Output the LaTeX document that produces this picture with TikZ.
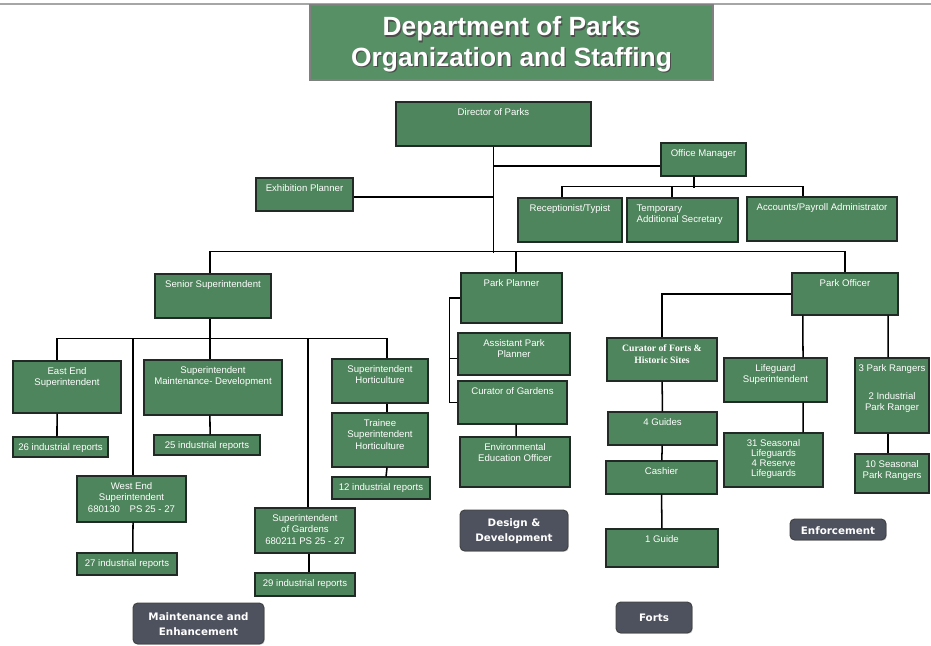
\documentclass[tikz,border=0pt]{standalone}
\usepackage{fontspec}
\setmainfont{Liberation Sans}
\newfontfamily\fortsfont{Liberation Serif}
\newfontfamily\areafont{DejaVu Sans}
\usetikzlibrary{fit,shadows}

\definecolor{parkgreen}{RGB}{78,133,92}
\definecolor{titlegreen}{RGB}{88,144,102}
\definecolor{unitline}{RGB}{34,42,38}
\definecolor{areagray}{RGB}{78,82,94}

\tikzset{
  unit/.style={draw=unitline, fill=parkgreen, line width=0.9pt, inner sep=0pt},
  unitname/.style={text=white, font=\fontsize{8.2}{9.6}\selectfont, align=center, inner sep=0pt},
  says/.style={label={[unitname, anchor=north, yshift=-6pt]north:#1}},
  area/.style={draw=black!75, fill=areagray, rounded corners=4pt, line width=0.8pt, inner sep=0pt, drop shadow={shadow xshift=0.8pt, shadow yshift=-0.8pt, opacity=0.35}},
  areaname/.style={text=white, font=\areafont\bfseries\fontsize{8.8}{12.5}\selectfont, align=center, inner sep=0pt},
  tag/.style={label={[areaname, anchor=center, yshift=-0.6pt]center:#1}},
  heading/.style={font=\bfseries\fontsize{22.5}{26}\selectfont, align=center, inner sep=0pt},
  link/.style={line width=1.3pt, black},
}

\begin{document}
\begin{tikzpicture}[x=0.03cm, y=-0.03cm]
    \useasboundingbox (0,0) rectangle (931,645);
    \draw[gray!70, line width=1.2pt] (0,4) -- (931,4);

    % title
    \node[unit, fill=titlegreen, draw=black!50, fit={(310,5) (713,80)}] (title) {};
    \node[heading, text=black!70] (titleshade) at ([xshift=1pt,yshift=-2.6pt]title.center) {Department of Parks\\Organization and Staffing};
    \node[heading, text=white] (titletext) at ([yshift=-1.6pt]title.center) {Department of Parks\\Organization and Staffing};

    % director and office
    \node[unit, fit={(396,102) (591,146)}, says={Director of Parks}] (dir) {};
    \node[unit, fit={(661,143) (746,176)}, says={Office Manager}] (om) {};
    \node[unit, fit={(256,178) (353,211)}, says={Exhibition Planner}] (exh) {};
    \node[unit, fit={(518,198) (622,242)}, says={Receptionist/Typist}] (rec) {};
    \node[unit, fit={(627,198) (738,242)}, label={[unitname, align=left, anchor=north west, xshift=8.5pt, yshift=-6pt]north west:Temporary\\Additional Secretary}] (tmp) {};
    \node[unit, fit={(747,197) (897,241)}, says={Accounts/Payroll Administrator}] (acc) {};

    % second level
    \node[unit, fit={(155,274) (271,318)}, says={Senior Superintendent}] (sen) {};
    \node[unit, fit={(461,273) (562,323)}, says={Park Planner}] (pp) {};
    \node[unit, fit={(792,273) (898,315)}, says={Park Officer}] (po) {};

    % maintenance and enhancement
    \node[unit, fit={(13,361) (121,413)}, says={East End\\Superintendent}] (east) {};
    \node[unit, fit={(144,360) (282,415)}, says={Superintendent\\Maintenance- Development}] (maint) {};
    \node[unit, fit={(332,359) (428,403)}, says={Superintendent\\Horticulture}] (hort) {};
    \node[unit, fit={(332,413) (428,467)}, says={Trainee\\Superintendent\\Horticulture}] (trainee) {};
    \node[unit, fit={(13,437) (108,457)}, says={26 industrial reports}] (r26) {};
    \node[unit, fit={(154,435) (260,455)}, says={25 industrial reports}] (r25) {};
    \node[unit, fit={(332,477) (430,499)}, says={12 industrial reports}] (r12) {};
    \node[unit, fit={(77,476) (186,522)}, says={West End\\Superintendent\\680130\quad PS 25 - 27}] (west) {};
    \node[unit, fit={(77,553) (177,575)}, says={27 industrial reports}] (r27) {};
    \node[unit, fit={(255,508) (355,553)}, says={Superintendent\\of Gardens\\680211 PS 25 - 27}] (gard) {};
    \node[unit, fit={(255,573) (355,596)}, says={29 industrial reports}] (r29) {};

    % design and development
    \node[unit, fit={(458,333) (570,375)}, says={Assistant Park\\Planner}] (asst) {};
    \node[unit, fit={(458,381) (567,424)}, says={Curator of Gardens}] (cg) {};
    \node[unit, fit={(460,437) (570,487)}, says={Environmental\\Education Officer}] (env) {};

    % forts
    \node[unit, fit={(607,338) (717,381)}, label={[unitname, font=\fortsfont\bfseries\fontsize{8.3}{10.4}\selectfont, anchor=north, yshift=-6pt]north:Curator of Forts \&\\Historic Sites}] (forts) {};
    \node[unit, fit={(608,412) (717,445)}, says={4 Guides}] (g4) {};
    \node[unit, fit={(606,461) (717,494)}, says={Cashier}] (cash) {};
    \node[unit, fit={(606,529) (718,567)}, says={1 Guide}] (g1) {};

    % enforcement
    \node[unit, fit={(724,358) (827,402)}, says={Lifeguard\\Superintendent}] (life) {};
    \node[unit, fit={(724,433) (823,487)}, label={[unitname, font=\fontsize{8.2}{8.6}\selectfont, anchor=north, yshift=-6pt]north:31 Seasonal\\Lifeguards\\4 Reserve\\Lifeguards}] (seas) {};
    \node[unit, fit={(855,358) (929,433)}, says={3 Park Rangers\\[14pt]2 Industrial\\Park Ranger}] (rang) {};
    \node[unit, fit={(855,454) (929,493)}, says={10 Seasonal\\Park Rangers}] (r10) {};

    % areas
    \node[area, fit={(133,603) (264,644)}, tag={Maintenance and\\Enhancement}] (maintarea) {};
    \node[area, fit={(460,510) (568,551)}, tag={Design \&\\Development}] (designarea) {};
    \node[area, fit={(616,602) (692,633)}, tag={Forts}] (fortsarea) {};
    \node[area, fit={(790,519) (886,540)}, tag={Enforcement}] (enfarea) {};

    % connectors
    \draw[link] (dir.south) -- ++(0,106);
    \draw[link] ([yshift=-5.5pt]om.west) -| (dir.south);
    \draw[link] ([yshift=-2pt]exh.east) -| (dir.south);
    \draw[link] ([xshift=-8.1pt]om.south) -- ++(0,11);
    \draw[link] ([xshift=-6.8pt]rec.north) -- ++(0,-11) -| ([xshift=-16.2pt]acc.north);
    \draw[link] ([xshift=-9pt]tmp.north) -- ++(0,-11);
    \draw[link] ([xshift=-2.6pt]sen.north) -- ++(0,-22) -| (po.north);
    \draw[link] ([xshift=3.8pt]pp.north) -- ++(0,-21);

    \draw[link] ([xshift=-2.6pt]sen.south) -- ++(0,21);
    \draw[link] ([xshift=-8.5pt]east.north) -- ++(0,-22) -| ([xshift=6pt]hort.north);
    \draw[link] ([xshift=-2.6pt]maint.north) -- ++(0,-21);
    \draw[link] ([xshift=1.3pt]west.north) -- ++(0,-137);
    \draw[link] ([xshift=2.6pt]gard.north) -- ++(0,-169);
    \draw[link] ([xshift=-8.5pt]east.south) -- ([xshift=-3pt]r26.north);
    \draw[link] ([xshift=-2.6pt]maint.south) -- ([xshift=2.6pt]r25.north);
    \draw[link] ([xshift=6pt]hort.south) -- ([xshift=6pt]trainee.north);
    \draw[link] ([xshift=6pt]trainee.south) -- ([xshift=4.3pt]r12.north);
    \draw[link] ([xshift=1.3pt]west.south) -- ([xshift=5pt]r27.north);
    \draw[link] ([xshift=3.4pt]gard.south) -- ([xshift=3.4pt]r29.north);

    \draw[link] (pp.west) -- ++(-11,0) |- (cg.west);
    \draw[link] ([yshift=-4pt]asst.west) -- ++(-8,0);
    \draw[link] ([xshift=3pt]cg.south) -- ([xshift=1pt]env.north);

    \draw[link] (po.west) -| (forts.north);
    \draw[link] (forts) -- (g4) -- (cash) -- (g1);
    \draw[link] ([xshift=-36pt]po.south) -- ([xshift=23.5pt]life.north);
    \draw[link] ([xshift=36.7pt]po.south) -- ([xshift=-3.4pt]rang.north);
    \draw[link] ([xshift=23.5pt]life.south) -- ([xshift=25.2pt]seas.north);
    \draw[link] ([xshift=-3.4pt]rang.south) -- ([xshift=-3.4pt]r10.north);
\end{tikzpicture}
\end{document}
